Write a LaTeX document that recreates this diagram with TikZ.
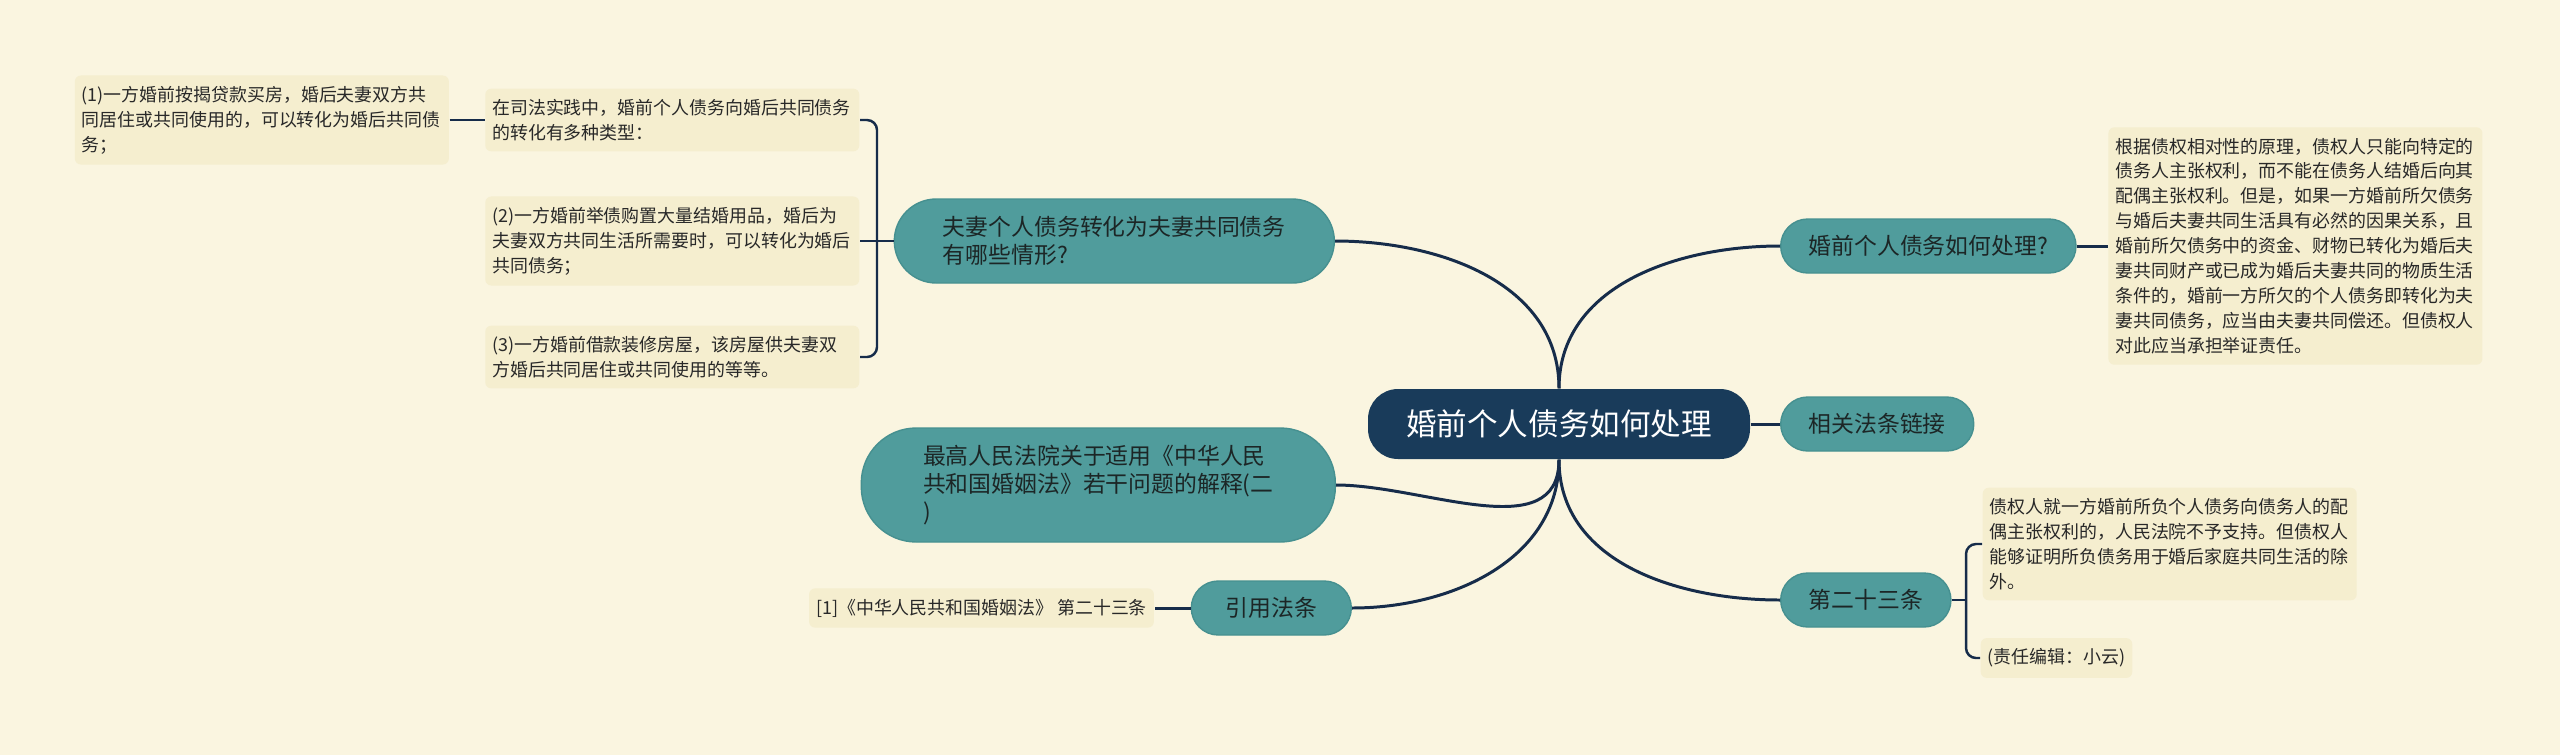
\documentclass[tikz,border=0pt]{standalone}
\usepackage{fontspec}
\setmainfont{Noto Sans CJK SC}
\usetikzlibrary{positioning}
\definecolor{paper}{RGB}{250,245,224}
\definecolor{leafbg}{RGB}{245,238,207}
\definecolor{leaftext}{RGB}{40,40,40}
\definecolor{topicteal}{RGB}{80,156,156}
\definecolor{topicedge}{RGB}{70,144,144}
\definecolor{topictext}{RGB}{28,38,38}
\definecolor{rootnavy}{RGB}{25,59,90}
\definecolor{linknavy}{RGB}{22,44,74}
\tikzstyle{rootbox} = [rectangle, fill=rootnavy, text=white, rounded corners=0.3cm,
    minimum width=3.82cm, minimum height=0.70cm, font=\fontsize{8.7pt}{10pt}\selectfont]
\tikzstyle{topicbox} = [rectangle, draw=topicedge, line width=0.4pt, fill=topicteal,
    text=topictext, rounded corners=0.27cm, minimum height=0.54cm, inner xsep=0.28cm,
    align=left, font=\fontsize{6.5pt}{8pt}\selectfont]
\tikzstyle{leafbox} = [rectangle, fill=leafbg, text=leaftext, rounded corners=0.06cm,
    inner xsep=0.07cm, inner ysep=3pt, align=left, font=\fontsize{5.1pt}{7.1pt}\selectfont]
\tikzstyle{link} = [draw=linknavy, line width=0.85pt]
\tikzstyle{fork} = [draw=linknavy, line width=0.7pt, rounded corners=0.1cm]

\begin{document}
\begin{tikzpicture}[node distance=0.35cm]
  \useasboundingbox[fill=paper] (0,0) rectangle (25.6,7.55);

  \node[rootbox] (root) at (15.59,3.31) {婚前个人债务如何处理};

  % left branches
  \node[topicbox, minimum width=4.40cm, minimum height=0.84cm, rounded corners=0.42cm,
        anchor=east] (cases) at (13.35,5.14) {夫妻个人债务转化为夫妻共同债务\\有哪些情形?};
  \node[topicbox, minimum width=4.74cm, minimum height=1.14cm, rounded corners=0.55cm,
        anchor=east] (interp) at (13.36,2.70) {最高人民法院关于适用《中华人民\\共和国婚姻法》若干问题的解释(二\\)};
  \node[topicbox, minimum width=1.60cm, anchor=east] (cite) at (13.52,1.47) {引用法条};

  \node[leafbox, text width=3.60cm, anchor=east] (types) at (8.60,6.35) {在司法实践中，婚前个人债务向婚后共同债务\\的转化有多种类型：};
  \node[leafbox, text width=3.60cm, anchor=east] (case2) at (8.60,5.14) {(2)一方婚前举债购置大量结婚用品，婚后为\\夫妻双方共同生活所需要时，可以转化为婚后\\共同债务；};
  \node[leafbox, text width=3.60cm, anchor=east] (case3) at (8.60,3.98) {(3)一方婚前借款装修房屋，该房屋供夫妻双\\方婚后共同居住或共同使用的等等。};
  \node[leafbox, text width=3.60cm] (case1) [left=of types] {(1)一方婚前按揭贷款买房，婚后夫妻双方共\\同居住或共同使用的，可以转化为婚后共同债\\务；};
  \node[leafbox] (law) [left=0.36cm of cite] {[1]《中华人民共和国婚姻法》 第二十三条};

  % right branches
  \node[topicbox, anchor=west] (howto) at (17.80,5.09) {婚前个人债务如何处理?};
  \node[topicbox, anchor=west] (links) at (17.80,3.31) {相关法条链接};
  \node[topicbox, anchor=west] (art) at (17.80,1.55) {第二十三条};

  \node[leafbox, text width=3.60cm] (reason) [right=0.31cm of howto] {根据债权相对性的原理，债权人只能向特定的\\债务人主张权利，而不能在债务人结婚后向其\\配偶主张权利。但是，如果一方婚前所欠债务\\与婚后夫妻共同生活具有必然的因果关系，且\\婚前所欠债务中的资金、财物已转化为婚后夫\\妻共同财产或已成为婚后夫妻共同的物质生活\\条件的，婚前一方所欠的个人债务即转化为夫\\妻共同债务，应当由夫妻共同偿还。但债权人\\对此应当承担举证责任。};
  \node[leafbox, text width=3.60cm, anchor=west] (artText) at (19.82,2.11) {债权人就一方婚前所负个人债务向债务人的配\\偶主张权利的，人民法院不予支持。但债权人\\能够证明所负债务用于婚后家庭共同生活的除\\外。};
  \node[leafbox, anchor=west] (editor) at (19.80,0.97) {(责任编辑：小云)};

  \coordinate (split) at (8.77,5.14);
  \coordinate (split2) at (19.66,1.55);

  \path[link] (root.north) edge[out=90,in=0] (cases.east)
              (root.north) edge[out=90,in=180] (howto.west)
              (root.east) edge (links.west)
              (root.south) edge[out=-90,in=0] (interp.east)
              (root.south) edge[out=-90,in=0] (cite.east)
              (root.south) edge[out=-90,in=180] (art.west)
              (cite.west) edge (law.east)
              (howto.east) edge (reason.west);

  \draw[fork] (types.east) -| (split) |- (case3.east);
  \draw[fork] (cases.west) -- (split) -- (case2.east);
  \draw[fork] (case1.east) -- (types.west);
  \draw[fork] (artText.west) -| (split2) |- (editor.west);
  \draw[fork] (art.east) -- (split2);
\end{tikzpicture}
\end{document}
